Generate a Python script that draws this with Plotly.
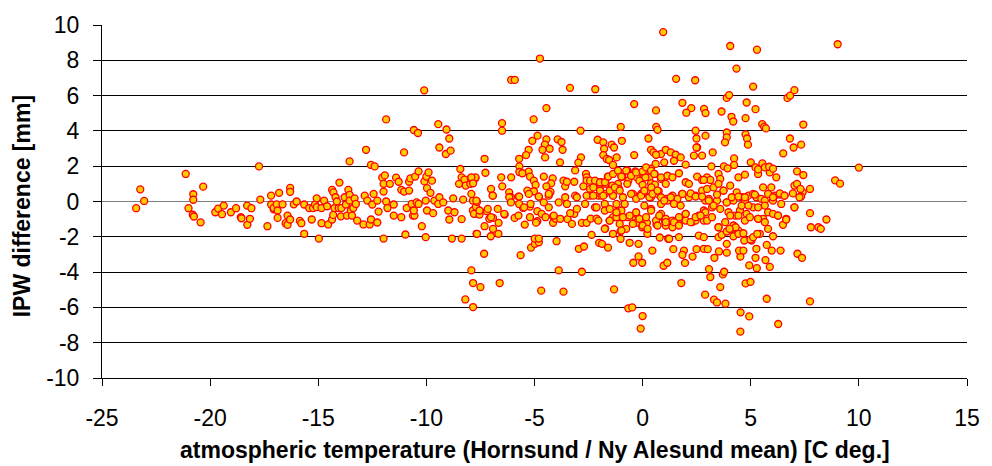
import plotly.graph_objects as go

# Atmospheric temperature (Hornsund / Ny Alesund mean) [C deg.] and IPW difference [mm]
# stored in blocks grouped by temperature range.

temp_cold = [-23.42, -23.23, -23.05, -21.13, -21.0, -20.78, -20.78, -20.8, -20.75, -20.44,
             -20.32, -19.76, -19.63, -19.45, -19.37, -19.04, -18.8, -18.58, -18.55, -18.29,
             -18.28, -18.16, -18.09, -17.74, -17.68, -17.35, -17.18, -17.18, -17.06, -17.06,
             -16.92, -16.88, -16.88, -16.81, -16.65, -16.51, -16.42, -16.42, -16.3, -16.3,
             -16.3, -16.13, -16.0, -15.85]
diff_cold = [-0.38, 0.69, 0.03, 1.56, -0.38, 0.41, 0.1, -0.75, -0.85, -1.18,
             0.84, -0.61, -0.4, -0.72, -0.23, -0.61, -0.38, -0.89, -0.95, -0.23,
             -1.32, -0.98, -0.38, 1.99, 0.11, -1.4, 0.33, -0.17, -0.44, -0.36,
             -0.16, -0.51, -0.93, 0.49, -0.16, -1.23, -0.8, -1.32, 0.77, 0.55,
             -1.02, -0.16, 0.0, -1.1]

temp_mid = [-15.78, -15.65, -15.65, -15.42, -15.3, -15.24, -15.15, -15.07, -15.07, -14.97,
            -14.85, -14.85, -14.73, -14.59, -14.54, -14.36, -14.3, -14.36, -14.31, -14.25,
            -14.2, -14.14, -14.02, -14.05, -13.95, -13.93, -13.78, -13.72, -13.67, -13.61,
            -13.55, -13.55, -13.49, -13.44, -13.38, -13.32, -13.26, -13.55, -13.2, -12.91,
            -12.85, -12.79, -12.73, -12.62, -12.56, -12.39, -12.56, -12.5, -12.44, -12.27,
            -12.21, -12.27, -11.98, -11.98, -12.04, -11.92, -11.98, -11.86, -11.86, -11.8,
            -11.69, -11.51, -11.51, -11.4, -11.28, -11.16, -11.16, -11.03, -11.03, -10.97,
            -10.91, -10.8, -10.8, -10.74, -10.68, -10.62, -10.55, -10.58, -10.39, -10.58,
            -10.52, -10.36, -10.45, -10.36, -10.21, -10.09, -10.0, -10.03, -10.03, -9.97,
            -9.97, -9.9, -9.81, -9.74, -9.63, -9.69, -9.45, -9.4, -9.4, -9.45,
            -9.22, -9.07, -8.94, -9.1, -8.88, -8.99, -8.94, -8.82, -8.76, -8.7,
            -8.49, -8.43, -8.37, -8.37, -8.37, -8.3, -8.24, -8.18, -7.97, -7.94,
            -7.73, -7.85, -7.85, -7.68, -7.76, -10.1, -8.2]
diff_mid = [-1.23, -1.83, -0.17, -0.37, -1.02, -0.37, -0.17, 0.18, -0.32, -2.1,
            -1.23, -0.37, 0.05, -0.27, -1.3, 0.66, 0.52, -1.02, -0.76, -0.37,
            0.24, 0.0, 1.07, -0.37, -0.84, -0.37, 0.24, -0.17, -0.8, 0.66,
            0.38, 0.05, -0.51, -0.8, -0.37, 0.18, -0.14, 2.27, -1.08, -1.3,
            0.33, 2.93, 0.05, -1.3, 2.07, 1.99, -1.02, -0.17, 0.43, -1.19,
            -0.57, 0.05, -2.1, 0.56, 1.35, 1.48, 1.0, 4.65, 0.0, -0.37,
            1.0, -0.17, -0.8, 1.35, 1.12, 0.66, -0.89, 2.78, 0.56, -1.87,
            -0.37, 0.62, 1.12, 1.31, -0.14, -0.8, -0.8, 4.05, 3.88, -0.51,
            1.41, 1.71, -0.05, -0.14, -1.4, 1.14, 1.41, 0.05, -2.02, 0.76,
            -0.51, 1.65, 0.49, 1.18, 0.05, -0.66, 4.38, 3.06, 0.24, -0.14,
            -0.05, 4.08, 3.57, 2.69, 2.88, -0.51, -1.02, -2.1, 0.18, -0.61,
            1.0, 1.84, 1.37, -2.1, -1.0, 0.11, 1.24, 0.9, 1.0, 1.33,
            1.33, -0.51, 0.05, -1.83, -0.7, 6.3, -5.55]

temp_upper = [0.95, -4.75, -6.08, -5.91, -3.36, -2.19, -4.45, -0.39, 0.62, -5.04,
              -6.5, -6.5, -2.87, -1.01, 0.63, 0.69, -4.86, -5.1, -4.45, -4.52,
              -3.93, -3.75, -4.3, -4.63, -3.7, -5.27, -5.39, -5.71, -4.51, -7.31,
              -2.85, -2.97, -3.82, -2.08, -1.82, -1.78, -1.43, -1.32, -0.96, -1.82,
              -1.66, -1.55, -1.2, -1.37, 0.27, 0.39, 0.5, -0.39, 0.85, 1.07,
              1.0, 0.6, -5.7, -5.7, -5.27, -5.56, -7.27, -3.12, -2.62, -0.71,
              -0.94, -0.34, 0.14, 0.39, -0.27, 0.05, 0.32, 0.55, -7.73, -7.92,
              -7.84, -6.54, -6.08, -6.49, -5.21, -5.03, -4.57, -4.16, -4.23, -4.45,
              -4.95, -5.33, -5.03, -4.26, -7.01, -6.93, -6.17, -6.09, -5.74, -4.8,
              -4.34, -3.66, -3.58, -3.5, -3.16, -2.59, -2.59, -2.16, -1.93, -1.7,
              -1.61, -1.14, -0.98, -0.66, -0.15, 0.0, 0.13, 0.39, 0.57, 0.85,
              1.07, -2.74, -2.43, -1.98, -1.4, -1.09, -2.43, -2.05, -1.75, -1.37,
              -0.71, -0.5, -0.07, 0.08, 0.4, 0.74]
diff_upper = [9.6, 8.1, 6.89, 6.89, 6.44, 6.36, 5.29, 5.52, 5.16, 4.65,
              4.44, 4.01, 4.01, 4.23, 4.23, 4.06, 3.73, 3.44, 3.52, 3.22,
              3.52, 3.37, 2.99, 2.93, 2.93, 2.93, 2.63, 2.42, 2.5, 2.42,
              2.5, 2.2, 2.22, 3.5, 3.35, 2.99, 3.22, 3.06, 3.44, 2.63,
              2.41, 2.35, 2.5, 2.07, 3.57, 2.93, 2.78, 2.63, 2.69, 2.93,
              2.22, 2.13, 1.99, 1.67, 1.69, 1.6, 1.63, 1.76, 1.56, 1.76,
              1.41, 1.71, 1.79, 1.86, 1.37, 1.37, 1.37, 1.56, 1.37, 1.37,
              1.03, 1.37, 1.37, 0.86, 1.41, 1.18, 1.41, 1.31, 1.03, 0.86,
              0.94, 0.62, 0.58, 0.54, 0.71, 0.33, 0.52, 0.24, 0.28, 0.28,
              0.33, 1.18, 0.86, 1.12, 1.12, 1.37, 1.18, 1.12, 1.09, 1.0,
              1.41, 1.0, 1.41, 1.18, 1.18, 0.94, 1.37, 1.03, 0.96, 1.28,
              1.0, 0.86, 0.71, 0.71, 0.9, 0.71, 0.33, 0.33, 0.43, 0.33,
              1.0, 0.43, 0.43, 0.58, 0.8, 0.58]

temp_lower = [-7.92, -7.84, -7.5, -7.84, -6.61, -4.69, -3.66, -3.88, -2.81, -1.32,
              -0.66, -0.48, 0.0, -0.09, -7.33, -5.64, -3.98, -5.16, -4.98, -4.8,
              -4.99, -4.8, -2.95, -2.71, -2.36, -2.01, -1.88, -1.6, -1.37, -1.02,
              -1.02, -0.6, -0.19, -0.19, -0.43, -0.02, 0.45, 0.22, 0.79, 0.97,
              1.14, 1.18, -7.66, -7.31, -7.02, -6.67, -6.92, -6.66, -7.2, -6.92,
              -7.09, -7.8, -7.54, -7.71, -7.66, -6.38, -5.92, -5.74, -5.53, -5.21,
              -5.21, -5.45, -4.87, -4.87, -4.93, -4.67, -4.49, -4.14, -4.14, -4.03,
              -3.81, -3.47, -3.27, -3.16, -3.04, -2.81, -2.59, -2.4, -2.13, -1.73,
              -1.53, -1.37, -1.21, -0.91, -0.68, -0.33, -0.3, -0.02, 0.2, 0.64,
              1.07, 0.8, 1.04]
diff_lower = [-3.9, -4.62, -4.85, -5.98, -4.62, -5.05, -5.11, -3.9, -3.98, -4.98,
              -6.05, -6.0, -6.49, -7.2, -2.96, -3.04, -2.25, -2.61, -2.4, -2.31,
              -2.1, -2.1, -2.68, -2.55, -1.89, -2.34, -2.4, -2.61, -1.83, -2.11,
              -1.68, -2.34, -2.4, -3.11, -3.47, -3.47, -2.78, -1.83, -2.04, -3.64,
              -3.47, -2.11, -1.83, -1.4, -1.97, -1.83, -1.55, -1.21, -0.55, -0.93,
              -0.98, -0.7, -0.74, -0.29, -0.02, -0.74, -0.93, -0.8, -0.36, -0.29,
              -0.89, -1.31, -0.55, -1.12, -1.2, -0.7, -0.89, -0.85, -1.21, -0.97,
              -0.98, -1.0, -1.27, -0.7, -0.42, -1.21, -1.21, -0.97, -0.97, -1.53,
              -1.08, -0.89, -0.89, -0.89, -0.89, -0.89, -1.21, -1.46, -1.21, -1.31,
              -1.31, -0.85, -1.12]

temp_band = [-7.92, -7.69, -7.54, -7.16, -6.93, -7.01, -6.7, -6.4, -6.17, -6.09,
             -5.71, -5.71, -5.48, -5.26, -5.18, -4.8, -4.57, -4.34, -4.34, -4.11,
             -3.88, -3.58, -3.5, -3.35, -3.12, -3.04, -2.66, -2.59, -2.28, -2.2,
             -1.9, -1.75, -1.37, -1.21, -0.98, -0.83, -0.45, -0.3, 0.0, 0.08,
             0.39, 0.39, 0.69, 0.85, 1.07]
diff_band = [0.43, 0.05, -0.51, -0.42, 0.33, -0.89, -0.42, -0.7, 0.24, -0.05,
             0.28, -0.14, -0.33, 0.43, -0.14, 0.28, -0.05, 0.43, -0.33, -0.8,
             -0.05, 0.24, -0.14, -0.66, 0.33, 0.24, -0.14, 0.33, 0.33, -0.33,
             0.33, -0.14, 0.33, -0.14, -0.51, -0.14, 0.43, -0.7, 0.43, -0.23,
             0.24, -0.42, 0.43, -0.14, 0.15]

temp_zero = [0.62, 1.3, 1.53, 1.76, 2.37, 2.52, 2.75, 1.45, 1.99,
             -2.43, -2.2, -1.97, -1.74, -1.59, -1.37, -1.14, -0.98, -0.76, -0.53,
             -0.3, 0.0, 0.16, 0.39, 0.54, 0.85, 1.15, 1.38, 1.68, 1.99,
             2.14, 2.52, 2.75, 2.98,
             -2.28, -1.97, -1.82, -1.52, -1.29, -1.06, -0.91, -0.53, -0.3, -0.07,
             0.08, 0.31, 0.46, 0.69, 0.85, 1.15, 1.38, 1.61, 1.83, 2.14,
             2.45, 2.75, 2.9,
             -2.13, -1.75, -1.52, -1.21, -0.91, -0.6, -0.3, -0.15, 0.16, 0.39,
             0.62, 0.85, 1.07, 1.38, 1.68, 1.99, 2.29, 2.6, 2.83, -2.05,
             -1.52, -1.06, -0.76, -0.45, 0.0, 0.23, 0.69, 1.07, 1.38, 1.68,
             1.99, 2.45, 2.83, -1.75, -0.98, 1.23, 1.68, 2.6, 1.91, 2.83]
diff_zero = [2.65, 2.78, 2.65, 2.5, 2.6, 3.06, 2.6, 2.31, 2.09,
             1.18, 1.18, 1.09, 1.09, 1.41, 1.56, 1.75, 1.41, 1.75, 1.46,
             1.65, 1.71, 1.93, 1.75, 1.56, 1.37, 1.46, 1.37, 1.6, 1.09,
             1.0, 1.41, 1.22, 1.37,
             0.8, 0.62, 0.33, 0.62, 0.8, 0.62, 0.24, 0.43, 0.15, 0.33,
             0.62, 0.24, 0.43, 0.62, 0.24, 0.05, 0.33, 0.15, 0.43, 0.24,
             0.33, 0.62, 0.05,
             -0.33, -0.51, -0.42, -0.61, -0.89, -0.8, -0.61, -0.98, -0.89, -0.51,
             -1.08, -0.7, -0.98, -1.08, -0.89, -0.7, -1.17, -0.8, -0.51, -1.08,
             -1.08, -1.27, -1.55, -1.27, -1.36, -1.55, -1.36, -1.36, -1.46, -1.27,
             -1.08, -1.08, -1.08, -1.55, -1.65, -2.11, -2.02, -1.93, -2.78, -2.68]

temp_warm = [4.43, 4.73, 5.34, 5.88, 6.18, 3.51, 3.59, 3.13, 2.83,
             2.98, 3.28, 3.51, 3.74, 4.05, 4.35, 4.58, 4.89, 5.11, 5.26,
             5.49, 5.8, 6.11, 7.4, 3.06, 3.44, 3.89, 4.2, 4.73, 5.65,
             6.03, 6.41,
             2.9, 3.21, 3.59, 3.97, 4.28, 4.5, 4.81, 5.11, 5.34, 5.57,
             5.8, 6.26, 3.51, 4.12, 4.43, 5.04, 5.42, 5.8, 5.26, 2.83]
diff_warm = [1.37, 1.52, 1.56, 1.65, 1.37, 1.56, 1.28, 1.22, 1.22,
             0.71, 0.8, 1.0, 0.62, 0.9, 0.52, 0.24, 0.33, 0.43, 0.24,
             0.15, 0.43, 0.33, 0.52, 0.15, 0.05, -0.05, 0.05, 0.05, 0.05,
             0.05, -0.14,
             -0.61, -0.33, -0.42, -0.61, -0.8, -0.51, -0.7, -0.33, -0.98, -0.98,
             -0.61, -0.8, -1.46, -1.55, -1.65, -2.21, -1.83, -1.55, -2.68, -2.02]

temp_warm_band = [1.0, 1.3, 1.45, 1.84, 1.76, 2.22, 2.45, 2.75, 3.06, 3.28,
                  3.44, 3.74, 3.89, 4.12, 4.43, 4.58, 4.73, 4.89, 5.19, 5.34,
                  5.65, 6.03, 6.34, 6.56, 7.02, 7.33,
                  0.77, 1.07, 1.45, 1.68, 1.99, 2.22, 2.45, 2.68, 2.98, 3.21,
                  3.51, 3.82, 4.05, 4.2, 4.43, 4.73, 4.96, 5.34, 5.65, 6.03,
                  6.26, 6.64]
diff_warm_band = [0.05, 0.24, -0.14, 0.43, -0.23, 0.46, 0.28, 0.28, 0.05, -0.23,
                  0.39, 0.62, -0.05, 0.24, 0.28, -0.23, 0.24, -0.23, 0.39, -0.33,
                  -0.23, 0.24, 0.39, 0.33, -0.33, 0.28,
                  -0.8, -1.17, -1.17, -1.36, -0.7, -1.17, -0.89, -0.8, -1.08, -0.89,
                  -1.46, -1.17, -0.8, -1.36, -0.8, -1.08, -0.89, -0.98, -1.17, -0.7,
                  -0.8, -0.98]

temp_warm_high = [4.05, 5.29, 9.02, 4.34, 1.55, 2.43, 5.11, 1.84, 2.25, 2.02,
                  2.84, 2.91, 3.65, 3.89, 4.0, 4.81, 5.22, 4.11, 4.19, 4.76,
                  6.7, 6.82, 7.02, 5.53, 5.62, 5.7, 7.43, 2.45, 2.91, 3.89,
                  3.89, 3.81, 4.76, 4.83, 4.87, 2.49, 2.49, 6.81, 6.98, 7.33,
                  6.5, 3.24, 3.18, 4.23, 4.23, 3.76, 3.93, 5.0, 5.22, 5.34,
                  5.54, 5.65, 5.85, 6.03, 7.14, 7.43, 10.0, 8.9, 9.13, 7.74,
                  7.02, 7.14, 7.3, 6.95, 7.25, 6.34, 6.56, 5.95, 5.57]
diff_warm_high = [8.81, 8.6, 8.91, 7.53, 6.95, 6.87, 6.51, 5.59, 5.29, 5.03,
                  5.25, 5.01, 5.1, 5.87, 6.03, 5.61, 5.23, 4.8, 4.53, 4.72,
                  5.87, 6.0, 6.31, 4.38, 4.23, 4.14, 4.36, 4.01, 3.73, 3.91,
                  3.63, 3.35, 3.8, 3.57, 3.22, 3.57, 3.06, 3.57, 3.06, 3.22,
                  2.73, 2.78, 1.99, 2.44, 2.07, 1.99, 1.88, 2.22, 1.93, 1.82,
                  2.16, 1.93, 1.97, 1.86, 1.71, 1.5, 1.92, 1.2, 1.01, 0.71,
                  0.9, 1.0, 0.71, 0.46, 0.24, 0.46, 0.33, 0.8, 0.8]

temp_warm_low = [7.74, 4.53, 4.93, 6.27, 4.52, 5.74, 2.89, 3.3, 3.44, 3.83,
                 3.59, 1.79, 4.76, 4.99, 3.07, 3.13, 3.71, 3.77, 4.93, 5.28,
                 5.88, 5.22, 5.68, 4.52, 4.46, 4.66, 5.97, 6.38, 5.74, 7.16,
                 7.37, 3.89, 3.89, 3.53, 3.32, 3.01, 2.49, 2.31, 1.96, 1.84,
                 1.42, 3.51, 3.66, 3.89, 4.2, 4.43, 4.66, 4.7, 4.99, 5.11,
                 5.3, 6.03, 4.3, 4.02, 7.78, 8.13, 8.5, 6.49, 6.64, 7.02,
                 7.74, 8.24]
diff_warm_low = [-5.66, -6.28, -6.51, -6.94, -7.37, -5.51, -5.28, -5.56, -5.72, -5.79,
                 -4.85, -4.62, -4.64, -4.55, -3.83, -4.28, -4.13, -3.98, -3.62, -3.78,
                 -3.7, -3.19, -3.32, -3.12, -2.78, -2.78, -2.78, -2.78, -2.46, -2.96,
                 -3.19, -2.4, -2.9, -2.83, -3.19, -2.7, -2.7, -3.12, -3.48, -3.02,
                 -2.7, -2.02, -1.89, -1.7, -1.97, -1.83, -1.8, -2.21, -2.15, -2.02,
                 -1.83, -1.97, -1.46, -1.55, -1.46, -1.46, -1.02, -1.32, -1.02, -0.33,
                 -0.66, -1.55]

blocks = [
    (temp_cold, diff_cold), (temp_mid, diff_mid), (temp_upper, diff_upper),
    (temp_lower, diff_lower), (temp_band, diff_band), (temp_zero, diff_zero),
    (temp_warm, diff_warm), (temp_warm_band, diff_warm_band),
    (temp_warm_high, diff_warm_high), (temp_warm_low, diff_warm_low),
]
temperature, ipw_diff = [], []
for t, d in blocks:
    if len(t) != len(d):
        raise ValueError(f"block length mismatch: {len(t)} vs {len(d)}")
    temperature += t
    ipw_diff += d

x_ticks = [-25, -20, -15, -10, -5, 0, 5, 10, 15]
y_ticks = [-10, -8, -6, -4, -2, 0, 2, 4, 6, 8, 10]

FONT = "Liberation Sans, Arial, Helvetica, sans-serif"

fig = go.Figure(
    go.Scatter(
        x=temperature,
        y=ipw_diff,
        mode="markers",
        marker=dict(size=7, color="#FFCC00", line=dict(color="#FF0000", width=1.3)),
        hovertemplate="%{x:.2f} C, %{y:.2f} mm<extra></extra>",
    )
)

fig.update_layout(
    width=992,
    height=466,
    margin=dict(l=102, r=16, t=24, b=88),
    paper_bgcolor="white",
    plot_bgcolor="white",
    showlegend=False,
    font=dict(family=FONT, size=23, color="black"),
    annotations=[
        dict(
            text="<b>atmospheric temperature (Hornsund / Ny Alesund mean) [C deg.]</b>",
            xref="paper", yref="paper", x=0.5, y=-0.203,
            xanchor="center", yanchor="middle", showarrow=False,
            font=dict(family=FONT, size=23, color="black"),
        ),
        dict(
            text="<b>IPW difference [mm]</b>",
            xref="paper", yref="paper", x=-0.0915, y=0.486,
            xanchor="center", yanchor="middle", showarrow=False, textangle=-90,
            font=dict(family=FONT, size=23, color="black"),
        ),
    ],
)

fig.update_xaxes(
    range=[-25, 15],
    tickvals=x_ticks,
    ticktext=[str(v) for v in x_ticks],
    ticks="outside",
    ticklen=7,
    tickcolor="black",
    tickwidth=1,
    showline=True,
    linecolor="black",
    linewidth=1,
    showgrid=False,
    zeroline=False,
    ticklabelstandoff=12,
    fixedrange=True,
)

fig.update_yaxes(
    range=[-10, 10],
    tickvals=y_ticks,
    ticktext=[str(v) for v in y_ticks],
    ticks="outside",
    ticklen=8,
    tickcolor="black",
    tickwidth=1,
    showline=True,
    linecolor="black",
    linewidth=1,
    showgrid=True,
    gridcolor="black",
    gridwidth=1,
    zeroline=True,
    zerolinecolor="#808080",
    zerolinewidth=1,
    ticklabelstandoff=9,
    fixedrange=True,
)

fig.write_html("out.html")
